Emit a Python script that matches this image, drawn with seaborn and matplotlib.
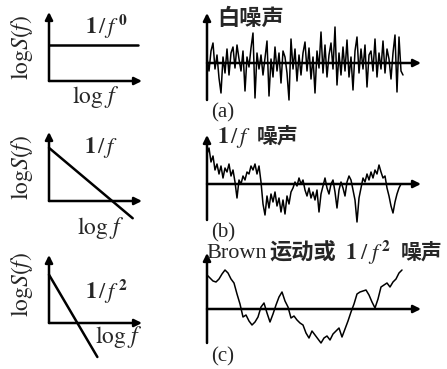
import numpy as np
import matplotlib
matplotlib.use("Agg")
import matplotlib.pyplot as plt
import seaborn as sns

# ---------------- data ----------------
# spectra (log f vs log S(f)), unit axes
flat_x = [0.0, 0.96]
flat_y = [0.52, 0.52]
pink_x = [0.0, 0.90]
pink_y = [0.77, -0.25]
brown_x = [0.0, 0.52]
brown_y = [0.71, -0.50]

white_noise = [5, -8, 12, 20, -6, 8, -15, -30, 6, -10, 14, -12, 10, 16, -5, 18, 4, -8, 12, -28,
               6, -4, 15, 30, -35, 10, -6, 8, -12, 5, 22, -33, 4, -14, 16, -8, 10, -20, 12, 6,
               -10, -37, 24, -6, 14, -18, 8, -12, 10, 21, -8, 15, -16, 6, -30, 12, -5, 31, -10, 18,
               -14, 8, 20, -6, 36, -22, 10, -12, 16, -8, 23, -14, 6, -27, 12, 26, -10, 14, -6, 18,
               -24, 8, 12, -8, 24, -14, 10, -6, 22, -10, 14, 4, -16, 10, 28, -29, 26, -8, -12]

pink_noise = [30, 36, 22, 28, 14, 20, 10, 18, 6, 16, 12, 20, 8, 14, 2, -14, 4, 0, 8, 4,
              12, 10, 18, 14, 20, 10, 18, 2, -20, -31, -12, -24, -10, -18, -8, -22, -14, -28, -16, -30,
              -12, -20, -8, -4, 2, -2, 6, 0, 4, -6, -12, -4, -14, -8, -16, -6, -28, -10, -2, 6,
              -4, -10, 0, 4, -8, -24, -6, 2, -4, -12, 2, 8, 4, -6, -16, -38, -14, -4, 6, 2,
              10, 4, 12, 6, 14, 10, 19, 12, 6, 8, -4, -12, -22, -29, -18, -10, -4, 0]

brown_noise = [34, 31, 28, 27, 30, 35, 39, 36, 30, 26, 15, 5, -8, -6, -12, -16, -13, -8, 2, 6,
               -4, -13, -5, 4, 12, 17, 8, 2, -9, -7, -11, -14, -16, -24, -29, -22, -26, -30, -34, -29,
               -27, -31, -25, -22, -19, -28, -20, -12, -3, 5, 15, 17, 18, 19, 14, 7, 1, 10, 22, 24,
               26, 22, 27, 30, 36, 39]

titles = ["白噪声", "噪声", "Brown", "运动或", "噪声"]
panel_labels = ["(a)", "(b)", "(c)"]
spec_labels = [r"$\mathbf{1}\,/\,f^{\,\mathbf{0}}$", r"$\mathbf{1}\,/\,f$",
               r"$\mathbf{1}\,/\,f^{\,\mathbf{2}}$"]

# ---------------- style ----------------
sns.set_style("white")
plt.rcParams["mathtext.fontset"] = "stix"
plt.rcParams["font.family"] = ["Liberation Serif", "DejaVu Serif"]

W, H = 447, 369
fig = plt.figure(figsize=(W / 100, H / 100), dpi=100)
fig.patch.set_facecolor("white")


def fx(x):
    return x / W


def fy(y):
    return 1 - y / H


def add_ax(x0, x1, ytop, ybot):
    ax = fig.add_axes([fx(x0), fy(ybot), (x1 - x0) / W, (ybot - ytop) / H])
    ax.set_axis_off()
    ax.patch.set_alpha(0)
    return ax


arrow = dict(arrowstyle="-|>", lw=1.8, color="black", mutation_scale=11,
             shrinkA=0, shrinkB=0)

# ---------------- left spectra ----------------
spec = [(flat_x, flat_y, 12, 81), (pink_x, pink_y, 132, 201), (brown_x, brown_y, 255, 323)]
for sx, sy, ytop, ybot in spec:
    ax = add_ax(49, 142, ytop, ybot)
    ax.set_xlim(0, 1)
    ax.set_ylim(0, 1)
    ax.annotate("", xy=(0, 1), xytext=(0, 0), arrowprops=arrow, annotation_clip=False)
    ax.annotate("", xy=(1, 0), xytext=(0, 0), arrowprops=arrow, annotation_clip=False)
    sns.lineplot(x=sx, y=sy, ax=ax, color="black", lw=1.8)
    for l in ax.lines:
        l.set_clip_on(False)

ylab = r"$\mathrm{log}S(f)$"
for yc in (47, 167, 284):
    fig.text(fx(22), fy(yc), ylab, rotation=90, ha="center", va="center", fontsize=17)
for (xc, yc) in ((96, 97), (101, 228), (119, 337)):
    fig.text(fx(xc), fy(yc), r"$\mathrm{log}\ f$", ha="center", va="center", fontsize=17)
for lab, (xc, yc) in zip(spec_labels, ((106, 27), (101, 148), (106, 292))):
    fig.text(fx(xc), fy(yc), lab, ha="center", va="center", fontsize=16)

# ---------------- right time series ----------------
series = [(white_noise, 2.0, 13, 63, 100), (pink_noise, 2.0, 135, 184, 220),
          (brown_noise, 3.0, 253, 309, 343)]
for vals, step, ytop, yax, ybot in series:
    ax = add_ax(207, 421, ytop, ybot)
    ax.set_xlim(0, 214 / step)
    ax.set_ylim(-(ybot - yax), yax - ytop)
    t = np.arange(len(vals))
    ax.annotate("", xy=(0, yax - ytop), xytext=(0, -(ybot - yax)), arrowprops=arrow,
                annotation_clip=False)
    ax.annotate("", xy=(214 / step, 0), xytext=(0, 0), arrowprops=arrow, annotation_clip=False)
    sns.lineplot(x=t, y=vals, ax=ax, color="black", lw=1.1)
    for l in ax.lines:
        l.set_clip_on(False)

cjk = dict(family=["Noto Sans CJK SC", "DejaVu Sans"], fontweight="bold", fontsize=16,
           va="center", ha="left")
fig.text(fx(217), fy(18), titles[0], **cjk)
fig.text(fx(217), fy(137), r"$\mathbf{1}\,/\,f$", fontsize=16, va="center", ha="left")
fig.text(fx(257), fy(137), titles[1], **dict(cjk, fontsize=15))
fig.text(fx(206), fy(254), titles[2], fontsize=16, va="center", ha="left")
fig.text(fx(269), fy(253), titles[3], **cjk)
fig.text(fx(345), fy(253), r"$\mathbf{1}\;/\;f^{\,\mathbf{2}}$", fontsize=16, va="center", ha="left")
fig.text(fx(401), fy(253), titles[4], **dict(cjk, fontsize=15))

for lab, yc in zip(panel_labels, (113, 233, 357)):
    fig.text(fx(211), fy(yc), lab, fontsize=15, va="center", ha="left")

fig.savefig("out.png", dpi=100, facecolor="white")
